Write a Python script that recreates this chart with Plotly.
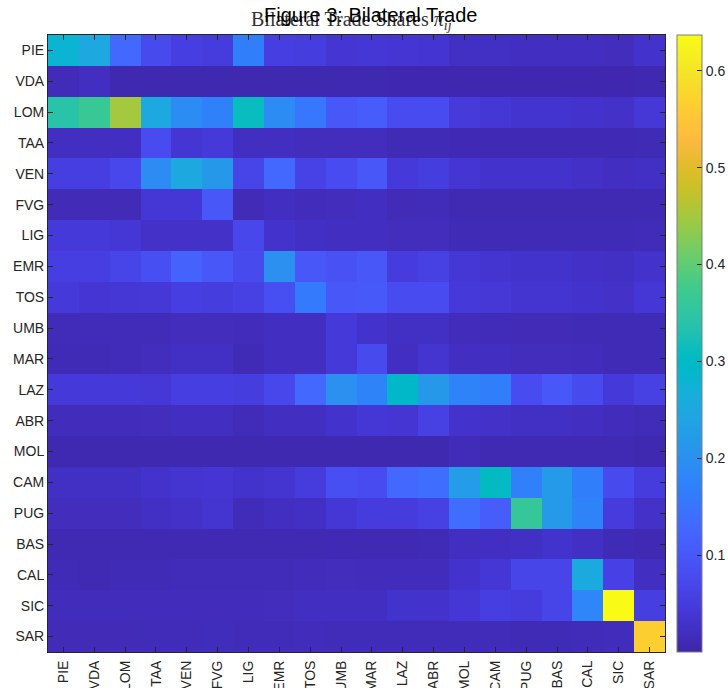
import plotly.graph_objects as go

regions = ["PIE", "VDA", "LOM", "TAA", "VEN", "FVG", "LIG", "EMR", "TOS", "UMB",
           "MAR", "LAZ", "ABR", "MOL", "CAM", "PUG", "BAS", "CAL", "SIC", "SAR"]

pie = [0.28, 0.25, 0.13, 0.075, 0.055, 0.05, 0.165, 0.055, 0.052, 0.038, 0.04, 0.038, 0.037, 0.025, 0.025, 0.02, 0.02, 0.02, 0.018, 0.03]
vda = [0.015, 0.02, 0.008, 0.008, 0.007, 0.007, 0.007, 0.008, 0.008, 0.007, 0.007, 0.006, 0.006, 0.006, 0.006, 0.006, 0.006, 0.006, 0.006, 0.008]
lom = [0.34, 0.365, 0.45, 0.25, 0.19, 0.17, 0.31, 0.19, 0.155, 0.1, 0.11, 0.08, 0.078, 0.047, 0.04, 0.034, 0.034, 0.03, 0.028, 0.042]
taa = [0.02, 0.02, 0.02, 0.078, 0.038, 0.045, 0.02, 0.022, 0.018, 0.018, 0.018, 0.012, 0.012, 0.011, 0.011, 0.011, 0.011, 0.011, 0.011, 0.012]
ven = [0.055, 0.055, 0.07, 0.19, 0.25, 0.215, 0.065, 0.13, 0.062, 0.08, 0.1, 0.045, 0.052, 0.038, 0.03, 0.03, 0.03, 0.026, 0.022, 0.025]
fvg = [0.013, 0.013, 0.013, 0.04, 0.04, 0.1, 0.013, 0.02, 0.016, 0.018, 0.02, 0.013, 0.015, 0.01, 0.01, 0.01, 0.01, 0.01, 0.01, 0.01]
lig = [0.045, 0.045, 0.04, 0.028, 0.028, 0.028, 0.07, 0.03, 0.025, 0.02, 0.02, 0.018, 0.018, 0.012, 0.012, 0.012, 0.012, 0.012, 0.012, 0.015]
emr = [0.055, 0.055, 0.065, 0.085, 0.12, 0.1, 0.075, 0.2, 0.1, 0.09, 0.1, 0.05, 0.058, 0.04, 0.036, 0.032, 0.032, 0.026, 0.024, 0.03]
tos = [0.045, 0.038, 0.04, 0.042, 0.055, 0.052, 0.058, 0.085, 0.16, 0.1, 0.105, 0.08, 0.08, 0.045, 0.042, 0.035, 0.035, 0.03, 0.028, 0.04]
umb = [0.014, 0.014, 0.014, 0.014, 0.018, 0.018, 0.016, 0.02, 0.022, 0.045, 0.03, 0.025, 0.024, 0.016, 0.014, 0.013, 0.013, 0.012, 0.012, 0.012]
mar = [0.012, 0.012, 0.015, 0.018, 0.025, 0.025, 0.012, 0.02, 0.022, 0.045, 0.075, 0.022, 0.035, 0.022, 0.02, 0.018, 0.018, 0.016, 0.012, 0.012]
laz = [0.045, 0.045, 0.045, 0.042, 0.055, 0.055, 0.052, 0.07, 0.13, 0.2, 0.175, 0.295, 0.215, 0.175, 0.165, 0.08, 0.1, 0.075, 0.045, 0.058]
abr = [0.016, 0.016, 0.016, 0.018, 0.02, 0.02, 0.015, 0.02, 0.022, 0.03, 0.04, 0.038, 0.058, 0.03, 0.028, 0.025, 0.025, 0.02, 0.016, 0.015]
mol = [0.008, 0.008, 0.008, 0.007, 0.007, 0.008, 0.007, 0.007, 0.008, 0.008, 0.007, 0.007, 0.007, 0.015, 0.009, 0.009, 0.009, 0.009, 0.009, 0.008]
cam = [0.025, 0.025, 0.025, 0.03, 0.035, 0.038, 0.032, 0.035, 0.05, 0.085, 0.08, 0.13, 0.14, 0.225, 0.305, 0.17, 0.22, 0.165, 0.075, 0.05]
pug = [0.018, 0.018, 0.018, 0.025, 0.028, 0.035, 0.015, 0.022, 0.025, 0.04, 0.05, 0.05, 0.058, 0.14, 0.11, 0.36, 0.22, 0.175, 0.048, 0.028]
bas = [0.01, 0.01, 0.01, 0.009, 0.009, 0.009, 0.01, 0.01, 0.01, 0.011, 0.01, 0.01, 0.012, 0.02, 0.02, 0.025, 0.032, 0.025, 0.012, 0.01]
cal = [0.012, 0.01, 0.012, 0.012, 0.014, 0.014, 0.014, 0.014, 0.016, 0.018, 0.016, 0.016, 0.016, 0.03, 0.04, 0.065, 0.065, 0.255, 0.06, 0.022]
sic = [0.016, 0.016, 0.016, 0.016, 0.016, 0.016, 0.016, 0.018, 0.02, 0.022, 0.022, 0.032, 0.03, 0.04, 0.055, 0.048, 0.065, 0.18, 0.635, 0.055]
sar = [0.013, 0.013, 0.013, 0.015, 0.015, 0.017, 0.015, 0.015, 0.016, 0.015, 0.015, 0.015, 0.014, 0.014, 0.014, 0.012, 0.012, 0.015, 0.016, 0.565]

shares = [pie, vda, lom, taa, ven, fvg, lig, emr, tos, umb,
          mar, laz, abr, mol, cam, pug, bas, cal, sic, sar]

colorbar_ticks = [0.1, 0.2, 0.3, 0.4, 0.5, 0.6]

# MATLAB parula colormap (R2017a+), 64 samples
parula = [
    (0.2422, 0.1504, 0.6603), (0.2504, 0.1650, 0.7076), (0.2578, 0.1818, 0.7511), (0.2647, 0.1978, 0.7952),
    (0.2706, 0.2147, 0.8364), (0.2751, 0.2342, 0.8710), (0.2783, 0.2559, 0.8991), (0.2803, 0.2782, 0.9221),
    (0.2813, 0.3006, 0.9414), (0.2810, 0.3228, 0.9579), (0.2795, 0.3447, 0.9717), (0.2760, 0.3667, 0.9829),
    (0.2699, 0.3892, 0.9906), (0.2602, 0.4123, 0.9952), (0.2440, 0.4358, 0.9988), (0.2206, 0.4603, 0.9973),
    (0.1963, 0.4847, 0.9892), (0.1834, 0.5074, 0.9798), (0.1786, 0.5289, 0.9682), (0.1764, 0.5499, 0.9520),
    (0.1687, 0.5703, 0.9359), (0.1540, 0.5902, 0.9218), (0.1460, 0.6091, 0.9079), (0.1380, 0.6276, 0.8973),
    (0.1248, 0.6459, 0.8883), (0.1113, 0.6635, 0.8763), (0.0952, 0.6798, 0.8598), (0.0689, 0.6948, 0.8394),
    (0.0297, 0.7082, 0.8163), (0.0036, 0.7203, 0.7917), (0.0067, 0.7312, 0.7660), (0.0433, 0.7411, 0.7394),
    (0.0964, 0.7500, 0.7120), (0.1408, 0.7584, 0.6842), (0.1717, 0.7670, 0.6554), (0.1938, 0.7758, 0.6251),
    (0.2161, 0.7843, 0.5923), (0.2470, 0.7918, 0.5567), (0.2906, 0.7973, 0.5188), (0.3406, 0.8008, 0.4789),
    (0.3909, 0.8029, 0.4354), (0.4456, 0.8024, 0.3909), (0.5044, 0.7993, 0.3480), (0.5616, 0.7942, 0.3045),
    (0.6174, 0.7876, 0.2612), (0.6720, 0.7793, 0.2227), (0.7242, 0.7698, 0.1910), (0.7738, 0.7598, 0.1646),
    (0.8203, 0.7498, 0.1535), (0.8634, 0.7406, 0.1596), (0.9035, 0.7330, 0.1774), (0.9393, 0.7288, 0.2100),
    (0.9728, 0.7298, 0.2394), (0.9956, 0.7434, 0.2371), (0.9970, 0.7659, 0.2199), (0.9952, 0.7893, 0.2028),
    (0.9892, 0.8136, 0.1885), (0.9786, 0.8386, 0.1766), (0.9676, 0.8639, 0.1643), (0.9610, 0.8890, 0.1537),
    (0.9597, 0.9135, 0.1423), (0.9628, 0.9373, 0.1265), (0.9691, 0.9606, 0.1064), (0.9769, 0.9839, 0.0805),
]
n = len(parula)
colorscale = [[i / (n - 1), "rgb(%d,%d,%d)" % (round(r * 255), round(g * 255), round(b * 255))]
              for i, (r, g, b) in enumerate(parula)]

W, H = 728, 688
L, R, T, B = 48, 63, 35, 36
pw = W - L - R
ph = H - T - B
axis_color = "#262626"
font_family = "Liberation Sans, Arial, Helvetica, sans-serif"

fig = go.Figure(go.Heatmap(
    z=shares, x=regions, y=regions,
    colorscale=colorscale, zmin=0.0, zmax=0.637,
    colorbar=dict(
        x=(677 - L) / pw, xanchor="left", xpad=0,
        y=0.5, yanchor="middle", ypad=0, len=1.0, lenmode="fraction",
        thickness=25, thicknessmode="pixels",
        outlinewidth=1, outlinecolor="#7f7f7f",
        tickvals=colorbar_ticks, ticks="inside", ticklen=5, tickcolor=axis_color,
        tickfont=dict(family=font_family, size=14, color=axis_color),
    ),
    xgap=0, ygap=0, hoverongaps=False,
))

fig.update_layout(
    width=W, height=H,
    margin=dict(l=L, r=R, t=T, b=B, autoexpand=False),
    paper_bgcolor="white", plot_bgcolor="white",
    font=dict(family=font_family, size=14, color=axis_color),
)

fig.update_xaxes(
    type="category", tickangle=-90, ticks="inside", ticklen=5, tickcolor=axis_color,
    showline=True, linecolor=axis_color, linewidth=1, mirror="ticks",
    showgrid=False, zeroline=False, automargin=False, ticklabelstandoff=2,
    tickfont=dict(family=font_family, size=14, color=axis_color),
)
fig.update_yaxes(
    type="category", autorange="reversed", ticks="inside", ticklen=5, tickcolor=axis_color,
    showline=True, linecolor=axis_color, linewidth=1, mirror="ticks",
    showgrid=False, zeroline=False, automargin=False,
    tickfont=dict(family=font_family, size=14, color=axis_color),
)

# overlapping titles, as in the reference
fig.add_annotation(
    text="Bilateral Trade Shares <i>π</i><sub><i>ij</i></sub>",
    xref="paper", yref="paper", x=(351 - L) / pw, y=(H - B - 21) / ph,
    xanchor="center", yanchor="middle", showarrow=False,
    font=dict(family="Liberation Serif, Times New Roman, serif", size=20, color="#333333"),
)
fig.add_annotation(
    text="Figure 3: Bilateral Trade",
    xref="paper", yref="paper", x=(370 - L) / pw, y=(H - B - 15.5) / ph,
    xanchor="center", yanchor="middle", showarrow=False,
    font=dict(family=font_family, size=20, color="black"),
)

fig.write_html(
    "out.html",
    config={"displayModeBar": False},
    post_script="document.body.style.margin='0';document.body.style.overflow='hidden';",
)
